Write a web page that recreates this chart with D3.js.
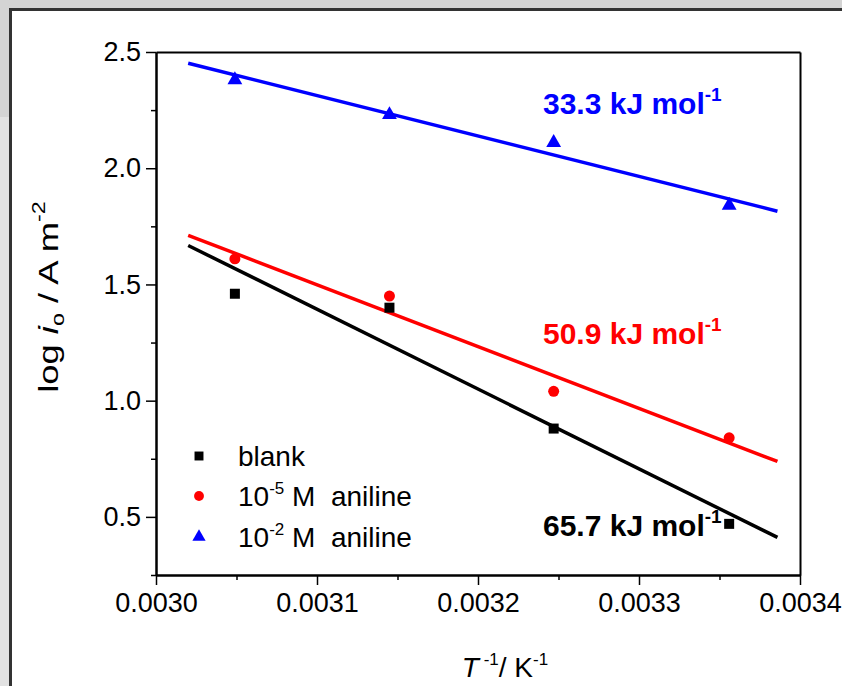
<!DOCTYPE html>
<html>
<head>
<meta charset="utf-8">
<script src="https://cdn.jsdelivr.net/npm/d3@7"></script>
<style>
  body { margin: 0; background: #d4d4d4; }
  svg { display: block; }
  text { font-family: "Liberation Sans", Arial, sans-serif; }
</style>
</head>
<body>
<svg id="chart" width="842" height="686"></svg>
<script>
// Inverse temperature (K^-1) for the four measurement temperatures
const invT = [0.003049, 0.003145, 0.003247, 0.003356];
// log of exchange current density (A m^-2)
const blankVals = [1.46, 1.40, 0.88, 0.47];
const aniline5Vals = [1.61, 1.45, 1.04, 0.84];
const aniline2Vals = [2.38, 2.23, 2.11, 1.84];
// Apparent activation energies (kJ mol^-1) from the Arrhenius slopes
const activationEnergy = [65.7, 50.9, 33.3];
const seriesNames = ["blank", "10-5", "10-2"];
const xTicks = [0.0030, 0.0031, 0.0032, 0.0033, 0.0034];
const yTicks = [0.5, 1.0, 1.5, 2.0, 2.5];
const xMinorTicks = [0.00305, 0.00315, 0.00325, 0.00335];
const yMinorTicks = [0.25, 0.75, 1.25, 1.75, 2.25];
const fitSpan = [0.00302, 0.003386];

const R = 8.314;
const W = 842, H = 686;
const svg = d3.select("#chart");

// page frame
svg.append("rect").attr("x", 0).attr("y", 0).attr("width", W).attr("height", H).attr("fill", "#d4d4d4");
svg.append("rect").attr("x", 0).attr("y", 117).attr("width", 10).attr("height", H - 117).attr("fill", "#e2e2e2");
svg.append("rect").attr("x", 9).attr("y", 8).attr("width", W - 9).attr("height", H - 8).attr("fill", "#333");
svg.append("rect").attr("x", 12).attr("y", 11).attr("width", W - 12).attr("height", H - 11).attr("fill", "#fff");

const margin = { left: 156, top: 52, right: 800, bottom: 575 };
const x = d3.scaleLinear().domain([0.0030, 0.0034]).range([margin.left, margin.right]);
const y = d3.scaleLinear().domain([0.25, 2.5]).range([margin.bottom, margin.top]);

const series = [
  { name: seriesNames[0], values: blankVals, color: "#000000", symbol: d3.symbolSquare, size: 100, ea: activationEnergy[0] },
  { name: seriesNames[1], values: aniline5Vals, color: "#ff0000", symbol: d3.symbolCircle, size: 95, ea: activationEnergy[1] },
  { name: seriesNames[2], values: aniline2Vals, color: "#0000ff", symbol: d3.symbolTriangle, size: 95, ea: activationEnergy[2] }
];

// Arrhenius fit lines: slope = -Ea / (2.303 R), passing through the data centroid
const line = d3.line().x(d => x(d[0])).y(d => y(d[1]));
const meanX = d3.mean(invT);
series.forEach(s => {
  const slope = -s.ea * 1000 / (Math.LN10 * R);
  const b = d3.mean(s.values) - slope * meanX;
  const pts = fitSpan.map(t => [t, b + slope * t]);
  svg.append("path").datum(pts).attr("d", line)
    .attr("fill", "none").attr("stroke", s.color).attr("stroke-width", 3.5);
});

// data points
series.forEach(s => {
  svg.append("g").selectAll("path").data(s.values).join("path")
    .attr("transform", (d, i) => `translate(${x(invT[i])},${y(d)})`)
    .attr("d", d3.symbol().type(s.symbol).size(s.size))
    .attr("fill", s.color);
});

// axes
const axisStyle = g => {
  g.selectAll(".domain").attr("stroke", "#000").attr("stroke-width", 2);
  g.selectAll(".tick line").attr("stroke", "#000").attr("stroke-width", 1.5);
  g.selectAll(".tick text").attr("fill", "#000").style("font-size", "27px")
    .style("font-family", "'Liberation Sans', Arial, sans-serif");
};

svg.append("g").attr("transform", `translate(0,${margin.bottom})`)
  .call(d3.axisBottom(x).tickValues(xTicks).tickFormat(d3.format(".4f")).tickSize(10).tickSizeOuter(0).tickPadding(8))
  .call(axisStyle);
svg.append("g").attr("transform", `translate(0,${margin.bottom})`)
  .call(d3.axisBottom(x).tickValues(xMinorTicks).tickFormat("").tickSize(5).tickSizeOuter(0))
  .call(axisStyle);
svg.append("g").attr("transform", `translate(${margin.left},0)`)
  .call(d3.axisLeft(y).tickValues(yTicks).tickFormat(d3.format(".1f")).tickSize(10).tickSizeOuter(0).tickPadding(5))
  .call(axisStyle);
svg.append("g").attr("transform", `translate(${margin.left},0)`)
  .call(d3.axisLeft(y).tickValues(yMinorTicks).tickFormat("").tickSize(5).tickSizeOuter(0))
  .call(axisStyle);
svg.append("g").attr("transform", `translate(0,${margin.top})`)
  .call(d3.axisTop(x).tickValues([]).tickSizeOuter(0))
  .call(axisStyle);
svg.append("g").attr("transform", `translate(${margin.right},0)`)
  .call(d3.axisRight(y).tickValues([]).tickSizeOuter(0))
  .call(axisStyle);

// axis titles
const xt = svg.append("text").attr("x", 505).attr("y", 677).attr("text-anchor", "middle")
  .style("font-size", "28px").attr("fill", "#000");
xt.append("tspan").style("font-style", "italic").text("T");
xt.append("tspan").attr("dy", -12).style("font-size", "17px").text(" -1");
xt.append("tspan").attr("dy", 12).text("/ K");
xt.append("tspan").attr("dy", -12).style("font-size", "17px").text("-1");

// the y title is drawn elongated along its run
const yt = svg.append("text").attr("transform", "translate(58,297) rotate(-90) scale(1.3,1)").attr("text-anchor", "middle")
  .style("font-size", "28px").attr("fill", "#000");
yt.append("tspan").text("log ");
yt.append("tspan").style("font-style", "italic").text("i");
yt.append("tspan").attr("dy", 6).style("font-size", "18px").text("o");
yt.append("tspan").attr("dy", -6).text(" / A m");
yt.append("tspan").attr("dy", -13).style("font-size", "18px").text("-2");

// legend
const legendRows = [
  { s: series[0], y: 456, label: ["blank"] },
  { s: series[1], y: 496, label: ["10", "-5", " M  aniline"] },
  { s: series[2], y: 537, label: ["10", "-2", " M  aniline"] }
];
legendRows.forEach(r => {
  svg.append("path").attr("transform", `translate(199,${r.y})`)
    .attr("d", d3.symbol().type(r.s.symbol).size(r.s.size * 0.8)).attr("fill", r.s.color);
  const t = svg.append("text").attr("x", 238).attr("y", r.y + 10).style("font-size", "28px").attr("fill", "#000")
    .attr("xml:space", "preserve");
  t.append("tspan").text(r.label[0]);
  if (r.label.length > 1) {
    t.append("tspan").attr("dy", -12).style("font-size", "17px").text(r.label[1]);
    t.append("tspan").attr("dy", 12).text(r.label[2]);
  }
});

// activation energy annotations
const notes = [
  { s: series[2], y: 114 },
  { s: series[1], y: 344 },
  { s: series[0], y: 536 }
];
notes.forEach(n => {
  const t = svg.append("text").attr("x", 543).attr("y", n.y)
    .style("font-size", "30px").style("font-weight", "bold").attr("fill", n.s.color);
  t.append("tspan").text(`${n.s.ea.toFixed(1)} kJ mol`);
  t.append("tspan").attr("dy", -13).style("font-size", "19px").text("-1");
});
</script>
</body>
</html>
